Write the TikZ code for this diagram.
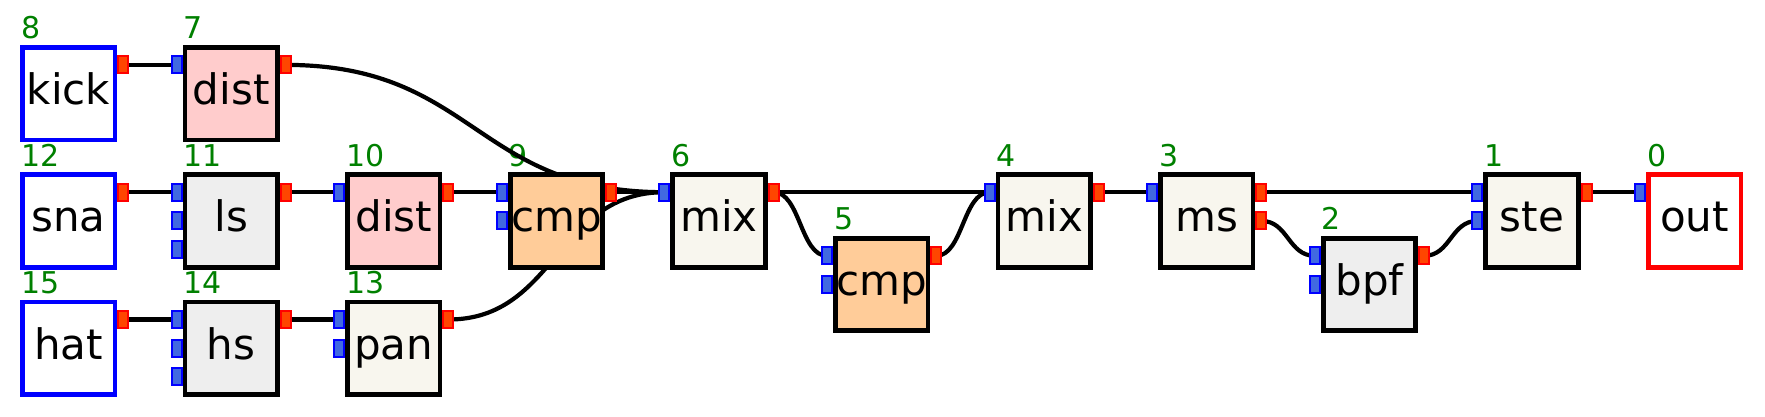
\documentclass[tikz,border=0pt]{standalone}
\usepackage{fontspec}
\setmainfont{DejaVu Sans}
\usetikzlibrary{calc}
\pgfdeclarelayer{lbl}
\pgfdeclarelayer{wires}
\pgfsetlayers{lbl,wires,main}
\definecolor{pinkf}{RGB}{255,204,204}
\definecolor{orangef}{RGB}{255,204,153}
\definecolor{beigef}{RGB}{248,246,238}
\definecolor{grayf}{RGB}{238,238,238}
\definecolor{inf}{RGB}{65,105,225}
\definecolor{outf}{RGB}{255,69,0}
\definecolor{numc}{RGB}{0,128,0}
\newcommand\blk[6]{%
  \node[box,#4] (#1) at ({68.6+162.6*#2},{93.6+127.3*#3}) {#5};
  \begin{pgfonlayer}{lbl}
  \node[num] (#1-n) at ($(#1.center)+(-48,-54.6)$) {#6};
  \end{pgfonlayer}}
\newcommand\inports[2]{\foreach \k in {1,...,#2}{\node[inport] (#1-i\k) at ($(#1.center)+(-54.6,{-28.7+28.7*(\k-1)})$) {};}}
\newcommand\outports[2]{\foreach \k in {1,...,#2}{\node[outport] (#1-o\k) at ($(#1.center)+(54.6,{-28.7+28.7*(\k-1)})$) {};}}
\newcommand\wire[2]{\draw[wire] let \p1=(#1.center), \p2=(#2.center) in (\p1) .. controls ({(\x1+\x2)/2},\y1) and ({(\x1+\x2)/2},\y2) .. (\p2);}
\begin{document}
\begin{tikzpicture}[x=0.5pt,y=-0.5pt,
  box/.style={draw=black,line width=2.35pt,minimum width=46.25pt,minimum height=46.25pt,
    inner sep=0pt,outer sep=0pt,text height=11pt,text depth=0pt,font=\fontsize{21}{21}\selectfont},
  srcbox/.style={draw=blue,fill=white},
  sinkbox/.style={draw=red,fill=white},
  pinkbox/.style={fill=pinkf},
  orangebox/.style={fill=orangef},
  beigebox/.style={fill=beigef},
  graybox/.style={fill=grayf},
  num/.style={anchor=base west,inner sep=0pt,text=numc,font=\fontsize{15}{15}\selectfont},
  inport/.style={draw=blue,fill=inf,line width=1pt,minimum width=5pt,minimum height=8.5pt,inner sep=0pt,outer sep=0pt},
  outport/.style={draw=red,fill=outf,line width=1pt,minimum width=5pt,minimum height=8.5pt,inner sep=0pt,outer sep=0pt},
  wire/.style={draw=black,line width=2.1pt}]
\useasboundingbox (0,0) rectangle (1765,417);
\blk{kick}{0}{0}{srcbox}{kick}{8}
\blk{dist7}{1}{0}{pinkbox}{dist}{7}
\blk{sna}{0}{1}{srcbox}{sna}{12}
\blk{ls}{1}{1}{graybox}{ls}{11}
\blk{dist10}{2}{1}{pinkbox}{dist}{10}
\blk{cmp9}{3}{1}{orangebox}{cmp}{9}
\blk{mix6}{4}{1}{beigebox}{mix}{6}
\blk{cmp5}{5}{1.5}{orangebox}{cmp}{5}
\blk{mix4}{6}{1}{beigebox}{mix}{4}
\blk{ms}{7}{1}{beigebox}{ms}{3}
\blk{bpf}{8}{1.5}{graybox}{bpf}{2}
\blk{ste}{9}{1}{beigebox}{ste}{1}
\blk{bout}{10}{1}{sinkbox}{out}{0}
\blk{hat}{0}{2}{srcbox}{hat}{15}
\blk{hs}{1}{2}{graybox}{hs}{14}
\blk{pan}{2}{2}{beigebox}{pan}{13}
\outports{kick}{1}
\inports{dist7}{1}\outports{dist7}{1}
\outports{sna}{1}
\inports{ls}{3}\outports{ls}{1}
\inports{dist10}{1}\outports{dist10}{1}
\inports{cmp9}{2}\outports{cmp9}{1}
\inports{mix6}{1}\outports{mix6}{1}
\inports{cmp5}{2}\outports{cmp5}{1}
\inports{mix4}{1}\outports{mix4}{1}
\inports{ms}{1}\outports{ms}{2}
\inports{bpf}{2}\outports{bpf}{1}
\inports{ste}{2}\outports{ste}{1}
\inports{bout}{1}
\outports{hat}{1}
\inports{hs}{3}\outports{hs}{1}
\inports{pan}{2}\outports{pan}{1}
\begin{pgfonlayer}{wires}
\foreach \a/\b in {kick-o1/dist7-i1, dist7-o1/mix6-i1, sna-o1/ls-i1, ls-o1/dist10-i1,
  dist10-o1/cmp9-i1, cmp9-o1/mix6-i1, hat-o1/hs-i1, hs-o1/pan-i1, pan-o1/mix6-i1,
  mix6-o1/mix4-i1, mix6-o1/cmp5-i1, cmp5-o1/mix4-i1, mix4-o1/ms-i1, ms-o1/ste-i1,
  ms-o2/bpf-i1, bpf-o1/ste-i2, ste-o1/bout-i1}{\wire{\a}{\b}}
\end{pgfonlayer}
\end{tikzpicture}
\end{document}
